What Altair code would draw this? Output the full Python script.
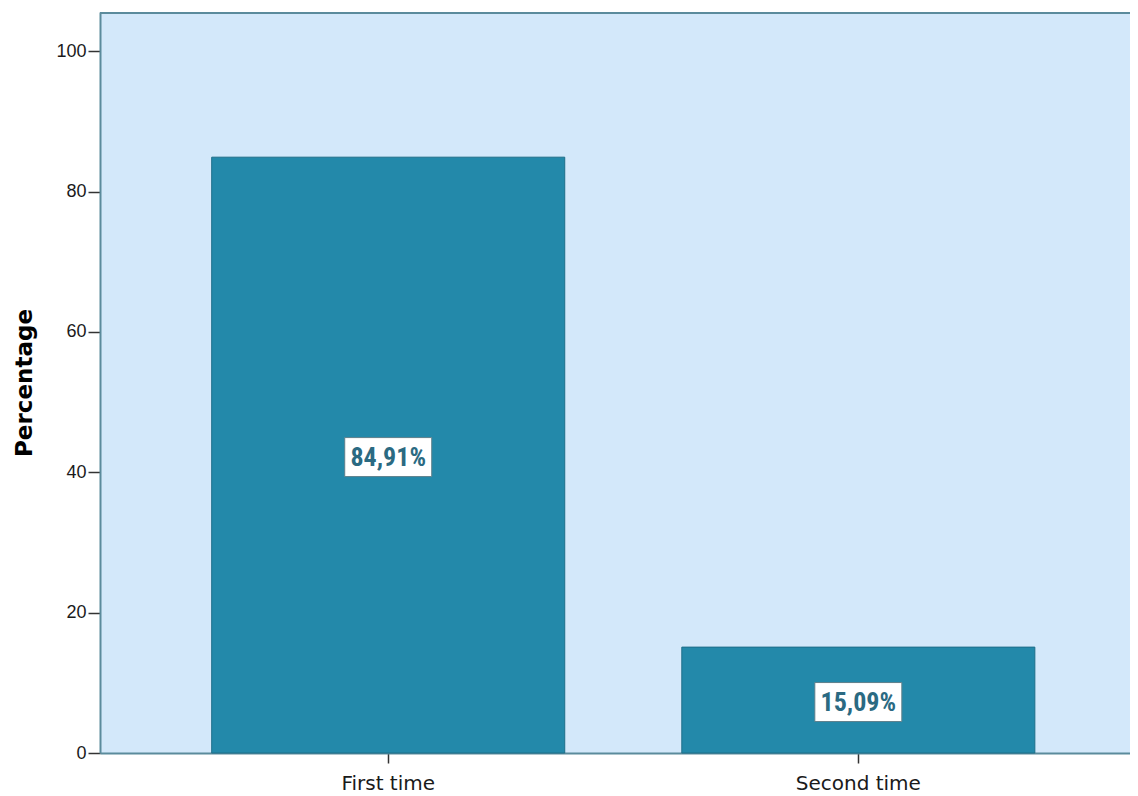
import altair as alt
import pandas as pd

categories = ["First time", "Second time"]
values = [84.91, 15.09]
labels = ["84,91%", "15,09%"]

df = pd.DataFrame({"cat": categories, "val": values, "lab": labels})
df["mid"] = df["val"] / 2

W, H = 1030, 741
FRAME = "#5B8B9C"

x = alt.X("cat:N", sort=categories, title=None,
          scale=alt.Scale(paddingInner=0.249, paddingOuter=0.22, align=0.54),
          axis=alt.Axis(labelAngle=0, labelFont="DejaVu Sans", labelFontSize=20,
                        labelColor="#1a1a1a", tickSize=10, tickColor="#333333",
                        tickWidth=1.5, labelPadding=10, domainColor=FRAME,
                        domainWidth=2))
y_scale = alt.Scale(domain=[0, 105.6], nice=False, zero=True)

bars = alt.Chart(df).mark_bar(color="#2389AA", stroke="#1E6E89", strokeWidth=1).encode(
    x=x,
    y=alt.Y("val:Q", scale=y_scale, title="Percentage",
            axis=alt.Axis(values=[0, 20, 40, 60, 80, 100], grid=False,
                          labelFont="Liberation Sans", labelFontSize=18,
                          labelColor="#1a1a1a", tickSize=12, tickColor="#333333",
                          tickWidth=1.5, labelPadding=2, domainColor=FRAME,
                          domainWidth=2, titleFont="DejaVu Sans", titleFontSize=23,
                          titleFontWeight="bold", titleColor="#000000",
                          titlePadding=19)),
)

boxes = alt.Chart(df).mark_point(
    shape="M-1,-0.4483L1,-0.4483L1,0.4483L-1,0.4483Z",
    size=87 * 87, filled=True, fill="white", stroke="#5E7F8B",
    strokeWidth=1, opacity=1, fillOpacity=1, yOffset=2,
).encode(x=alt.X("cat:N", sort=categories), y=alt.Y("mid:Q", scale=y_scale))

texts = alt.Chart(df).mark_text(
    font="Liberation Sans Narrow, Roboto Condensed, Liberation Sans",
    fontSize=26, fontWeight="bold", color="#2B6A82", baseline="middle",
    align="center", dy=3,
).encode(x=alt.X("cat:N", sort=categories), y=alt.Y("mid:Q", scale=y_scale),
         text="lab:N")

top = alt.Chart(df).mark_rule(color=FRAME, strokeWidth=2).encode(
    x=alt.value(0), x2=alt.value(W), y=alt.value(1))

chart = alt.layer(bars, boxes, texts, top).properties(
    width=W, height=H,
    autosize=alt.AutoSizeParams(type="none"),
    padding={"left": 92, "top": 4, "right": 0, "bottom": 40},
).configure_view(stroke=None, fill="#D3E8FA")

chart.save("out.html", embed_options={"renderer": "svg", "actions": False})
